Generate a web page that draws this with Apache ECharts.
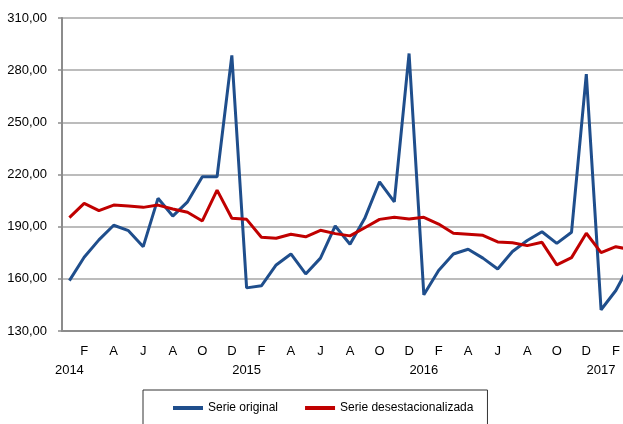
<!DOCTYPE html>
<html>
<head>
<meta charset="utf-8">
<script src="https://cdn.jsdelivr.net/npm/echarts@6/dist/echarts.min.js"></script>
<style>
	html, body { margin: 0; padding: 0; background: #fff; }
	#chart { width: 623px; height: 424px; }
</style>
</head>
<body>
<div id="chart"></div>
<script>
// meses (ene 2014 - mar 2017)
var categories = [
	'2014-01', '2014-02', '2014-03', '2014-04', '2014-05', '2014-06', '2014-07', '2014-08', '2014-09', '2014-10', '2014-11', '2014-12',
	'2015-01', '2015-02', '2015-03', '2015-04', '2015-05', '2015-06', '2015-07', '2015-08', '2015-09', '2015-10', '2015-11', '2015-12',
	'2016-01', '2016-02', '2016-03', '2016-04', '2016-05', '2016-06', '2016-07', '2016-08', '2016-09', '2016-10', '2016-11', '2016-12',
	'2017-01', '2017-02', '2017-03'
];
var monthLetters = ['E', 'F', 'M', 'A', 'M', 'J', 'J', 'A', 'S', 'O', 'N', 'D'];

var serieOriginal = [
	159.0, 172.4, 182.4, 190.8, 187.7, 178.5, 206.3, 196.1, 204.3, 218.7, 218.7, 288.5,
	154.8, 156.0, 168.0, 174.3, 162.8, 171.9, 190.4, 179.9, 194.8, 215.8, 204.3, 289.6,
	150.8, 164.8, 174.3, 177.0, 171.9, 165.7, 175.7, 182.0, 187.1, 180.4, 186.8, 277.7,
	142.2, 153.3, 169.0
];
var serieDesest = [
	195.2, 203.4, 199.2, 202.4, 201.9, 201.1, 202.4, 200.2, 198.3, 193.3, 211.0, 194.8,
	194.2, 183.9, 183.3, 185.6, 184.2, 187.9, 186.0, 184.7, 189.4, 194.2, 195.4, 194.4,
	195.4, 191.5, 186.2, 185.6, 185.0, 181.2, 180.8, 179.1, 181.0, 168.0, 172.2, 186.2,
	175.1, 178.5, 176.8
];
var yTicks = { min: 130, max: 310, interval: 30 };

var FONT = '"Liberation Sans", Arial, sans-serif';

var chart = echarts.init(document.getElementById('chart'));

var option = {
	animation: false,
	textStyle: { fontFamily: FONT },
	// el grafico original esta recortado a la derecha (mar 2017 queda fuera)
	grid: {
		left: 62, top: 18, height: 313, width: 576,
		containLabel: false,
		outerBoundsMode: 'none'
	},
	legend: {
		left: 143,
		top: 390,
		padding: [12, 14, 24, 30],
		borderColor: '#333',
		borderWidth: 1,
		itemGap: 27,
		itemWidth: 30,
		itemHeight: 4,
		icon: 'rect',
		textStyle: { fontFamily: FONT, fontSize: 12, color: '#000' },
		data: ['Serie original', 'Serie desestacionalizada']
	},
	xAxis: {
		type: 'category',
		data: categories,
		boundaryGap: true,
		axisLine: { lineStyle: { color: '#8c8c8c', width: 2 } },
		axisTick: { show: false },
		axisLabel: {
			interval: 0,
			margin: 11,
			color: '#000',
			fontFamily: FONT,
			fontSize: 13,
			lineHeight: 19,
			formatter: function(v) {
				var year = v.slice(0, 4);
				var m = parseInt(v.slice(5), 10);
				if (m === 1) {
					return '\n' + year;
				}
				if (m % 2 === 0) {
					return monthLetters[m - 1];
				}
				return '';
			}
		}
	},
	yAxis: {
		type: 'value',
		min: yTicks.min,
		max: yTicks.max,
		interval: yTicks.interval,
		axisLine: { show: true, lineStyle: { color: '#8c8c8c', width: 2 } },
		axisTick: { show: true, length: 4, lineStyle: { color: '#8c8c8c', width: 1.5 } },
		splitLine: { lineStyle: { color: '#a6a6a6', width: 1.5 } },
		axisLabel: {
			margin: 15,
			color: '#000',
			fontFamily: FONT,
			fontSize: 13,
			formatter: function(v) {
				return v.toFixed(2).replace('.', ',');
			}
		}
	},
	series: [{
		name: 'Serie original',
		type: 'line',
		data: serieOriginal,
		symbol: 'none',
		itemStyle: { color: '#1f4e8c' },
		lineStyle: { color: '#1f4e8c', width: 3 }
	}, {
		name: 'Serie desestacionalizada',
		type: 'line',
		data: serieDesest,
		symbol: 'none',
		itemStyle: { color: '#c00000' },
		lineStyle: { color: '#c00000', width: 3 }
	}]
};

chart.setOption(option);
</script>
</body>
</html>
